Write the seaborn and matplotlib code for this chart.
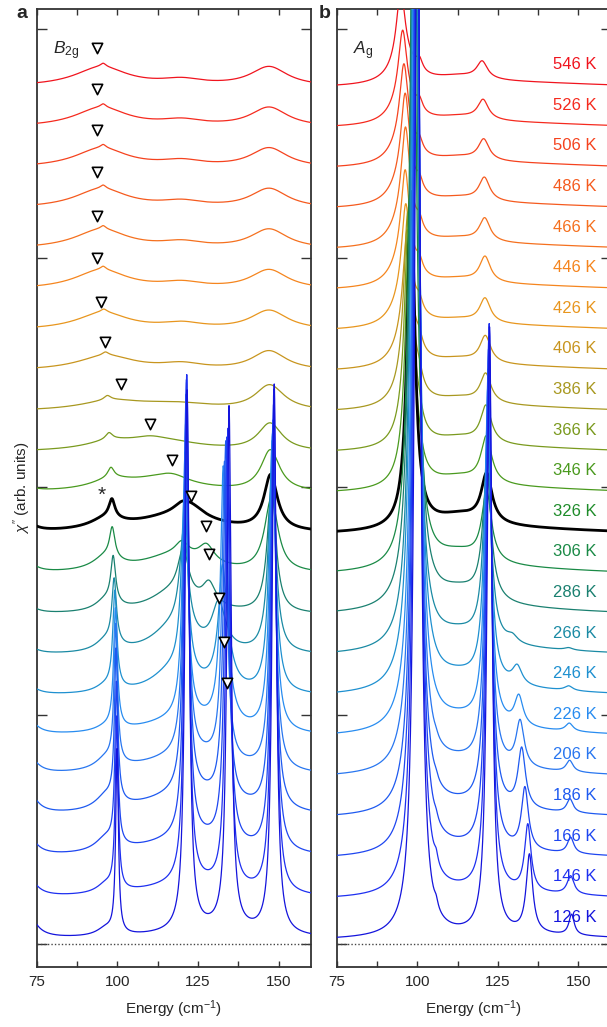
import numpy as np
import matplotlib
matplotlib.use("Agg")
import matplotlib.pyplot as plt
import seaborn as sns

# ---------------- data ----------------
temps = [126, 146, 166, 186, 206, 226, 246, 266, 286, 306, 326,
         346, 366, 386, 406, 426, 446, 466, 486, 506, 526, 546]
temp_labels = [f"{t} K" for t in temps]
curve_colors = ["#1414dc", "#1e30f0", "#1e46f0", "#1e5af0", "#2876f0", "#288cf0",
                "#1e90d0", "#1a8aa4", "#1a8070", "#1a8a46", "#000000", "#4a9a1e",
                "#7a9a1e", "#a89820", "#c8951e", "#e8961e", "#f5851e", "#f5701e",
                "#f55a1e", "#f5421e", "#f52a1e", "#f0141e"]
label_colors = ["#1414dc", "#1e30f0", "#1e46f0", "#1e5af0", "#2876f0", "#288cf0",
                "#1e90d0", "#1a8aa4", "#1a8070", "#1a8a46", "#1e8c2a", "#4a9a1e",
                "#7a9a1e", "#a89820", "#c8951e", "#e8961e", "#f5851e", "#f5701e",
                "#f55a1e", "#f5421e", "#f52a1e", "#f0141e"]

# ---- panel a (B2g): peak parameters per temperature (centre, height, half width)
a_tail_amp = [0.12, 0.10, 0.10, 0.12, 0.10, 0.08, 0.05, 0.04, 0.04, 0.05, 0.04,
              0.02, 0, 0, 0, 0, 0, 0, 0, 0, 0, 0]
a_hump_pos = [96.5, 96.5, 96.5, 96.5, 96.5, 96.5, 96.5, 96.5, 96.5, 96.5, 96.5,
              98.0, 98.0, 98.0, 96.5, 95.5, 95.0, 95.0, 95.0, 95.0, 95.0, 95.0]
a_hump_amp = [0.035, 0.04, 0.06, 0.06, 0.05, 0.02, 0.03, 0.05, 0.05, 0.06, 0.045,
              0.04, 0.035, 0.04, 0.065, 0.075, 0.085, 0.085, 0.085, 0.085, 0.085, 0.085]
a_hump_wid = [3.5, 3.5, 4, 4, 4, 4, 4, 4, 4, 5, 6, 8, 10, 12, 11, 10, 10, 10, 10, 10, 10, 10]
a_p100_pos = [99.9, 99.8, 99.7, 99.6, 99.5, 99.4, 99.2, 99.0, 98.7, 98.4, 98.3,
              98.0, 97.4, 96.9, 96.3, 95.8, 95.6, 95.6, 95.6, 95.6, 95.6, 95.6]
a_p100_amp = [0.80, 0.75, 0.70, 0.66, 0.60, 0.52, 0.42, 0.28, 0.20, 0.13, 0.08,
              0.045, 0.03, 0.02, 0.015, 0.015, 0.015, 0.015, 0.015, 0.015, 0.015, 0.015]
a_p100_wid = [0.5, 0.55, 0.55, 0.6, 0.65, 0.7, 0.75, 0.85, 0.9, 1.0, 1.1,
              1.2, 1.3, 1.3, 1.2, 1.2, 1.0, 1.0, 1.0, 1.0, 1.0, 1.0]
a_cont_pos = [130, 122, 122, 122, 122, 120, 117, 117, 117, 117, 118,
              113, 115, 118, 120, 120, 120, 120, 120, 120, 120, 120]
a_cont_amp = [0.04, 0.06, 0.08, 0.10, 0.09, 0.07, 0.10, 0.11, 0.09, 0.075, 0.07,
              0.05, 0.04, 0.03, 0.025, 0.025, 0.025, 0.025, 0.025, 0.025, 0.025, 0.025]
a_cont_wid = [18, 18, 18, 18, 18, 15, 8, 8, 9, 12, 16, 14, 15, 15, 8, 8, 8, 8, 8, 8, 8, 8]
a_p121_pos = [121.6, 121.5, 121.4, 121.3, 121.2, 121.0, 120.8, 120.6, 120.4, 120.0, 120.0,
              120.0, 120.0, 120.0, 120.0, 120.0, 120.0, 120.0, 120.0, 120.0, 120.0, 120.0]
a_p121_amp = [2.36, 2.22, 2.0, 1.74, 1.45, 1.16, 0.80, 0.45, 0.20, 0.06, 0.03,
              0, 0, 0, 0, 0, 0, 0, 0, 0, 0, 0]
a_p121_wid = [0.8, 0.8, 0.85, 0.9, 0.95, 1.0, 1.2, 1.6, 2.0, 2.5, 3,
              3, 3, 3, 3, 3, 3, 3, 3, 3, 3, 3]
a_soft_pos = [134.6, 134.5, 134.4, 134.3, 134.2, 134.0, 133.1, 131.4, 128.4, 127.6, 122.9,
              116.9, 110.0, 101.1, 96.2, 95.0, 93.8, 93.8, 93.8, 93.8, 93.8, 93.8]
a_soft_amp = [0, 0, 0, 0, 0, 0.12, 0.25, 0.2, 0.1, 0.08, 0.05,
              0.03, 0.02, 0, 0, 0, 0, 0, 0, 0, 0, 0]
a_soft_wid = [2, 2, 2, 2, 2, 2.5, 2.5, 2.5, 2.5, 3, 5, 6, 6, 6, 6, 6, 6, 6, 6, 6, 6, 6]
a_p134_pos = [134.6, 134.3, 134.0, 133.6, 133.2, 132.8, 132.5, 133.0, 133.0, 133.0, 133.0,
              133.0, 133.0, 133.0, 133.0, 133.0, 133.0, 133.0, 133.0, 133.0, 133.0, 133.0]
a_p134_amp = [2.28, 2.0, 1.77, 1.56, 1.3, 1.03, 0.3, 0, 0, 0, 0,
              0, 0, 0, 0, 0, 0, 0, 0, 0, 0, 0]
a_p134_wid = [0.8, 0.85, 0.9, 0.9, 0.95, 1.0, 1.2, 1.5, 1.5, 1.5, 1.5,
              1.5, 1.5, 1.5, 1.5, 1.5, 1.5, 1.5, 1.5, 1.5, 1.5, 1.5]
a_p148_pos = [148.6, 148.5, 148.4, 148.3, 148.2, 148.1, 148.0, 147.9, 147.8, 147.7, 147.5,
              147.4, 147.3, 147.2, 147.0, 147.0, 147.0, 147.0, 147.0, 147.0, 147.0, 147.0]
a_p148_amp = [2.4, 2.2, 1.95, 1.7, 1.5, 1.3, 1.1, 0.8, 0.55, 0.32, 0.24,
              0.18, 0.12, 0.11, 0.085, 0.085, 0.085, 0.085, 0.085, 0.085, 0.085, 0.085]
a_p148_wid = [0.8, 0.85, 0.9, 0.95, 1.0, 1.1, 1.2, 1.4, 1.6, 2.5, 2.5,
              3.5, 4.5, 5.5, 6.5, 7, 7, 7, 7, 7, 7, 7]

# soft-mode markers (open triangles), 226 K ... 546 K
tri_temps = [226, 246, 266, 286, 306, 326, 346, 366, 386, 406, 426, 446, 466, 486, 506, 526, 546]
tri_energy = [134.0, 133.1, 131.4, 128.4, 127.6, 122.9, 116.9, 110.0, 101.1, 96.2,
              95.0, 93.8, 93.8, 93.8, 93.8, 93.8, 93.8]
tri_height = [0.232, 0.237, 0.251, 0.265, 0.211, 0.165, 0.143, 0.123, 0.121, 0.127,
              0.124, 0.139, 0.145, 0.16, 0.166, 0.168, 0.17]
star_energy, star_height = 95.0, 0.165

# ---- panel b (Ag)
b_base_pos = [98.5, 98.5, 98.5, 98.5, 98.5, 98.5, 98.5, 98.5, 98.5, 98.5, 98.5,
              97.5, 97.0, 96.5, 96.0, 95.5, 95.5, 95.5, 95.5, 95.5, 95.5, 95.5]
b_base_amp = [0.02, 0.02, 0.02, 0.02, 0.02, 0.02, 0.02, 0.02, 0.02, 0.02, 0.02,
              0.03, 0.05, 0.07, 0.09, 0.1, 0.1, 0.1, 0.1, 0.1, 0.1, 0.1]
b_base_wid = [4, 4, 4, 4, 4, 4, 4, 4, 4, 4, 4, 4, 4, 4.5, 4.5, 4.5, 4.5, 4.5, 4.5, 4.5, 4.5, 4.5]
b_p98_pos = [100.0, 99.9, 99.8, 99.7, 99.6, 99.5, 99.3, 99.1, 98.9, 98.6, 98.0,
             97.6, 97.3, 97.0, 96.8, 96.4, 96.2, 96.3, 96.2, 95.8, 95.4, 94.8]
b_p98_amp = [5.0, 5.0, 5.0, 5.0, 4.8, 4.6, 4.4, 4.0, 3.6, 3.0, 1.45,
             1.25, 1.0, 0.78, 0.51, 0.44, 0.41, 0.42, 0.39, 0.34, 0.31, 0.31]
b_p98_wid = [1.0, 1.05, 1.1, 1.1, 1.15, 1.2, 1.25, 1.25, 1.3, 1.3, 1.4,
             1.45, 1.5, 1.55, 1.6, 1.6, 1.6, 1.6, 1.6, 1.6, 1.6, 1.6]
b_p101_amp = [0, 0, 0, 0, 0, 0, 0, 0, 0, 0, 0,
              0.04, 0.05, 0.05, 0.05, 0.05, 0.05, 0.05, 0.05, 0.05, 0.05, 0.05]
b_p106_amp = [0.03, 0.04, 0.02, 0.015, 0.01, 0, 0, 0, 0, 0, 0,
              0, 0, 0, 0, 0, 0, 0, 0, 0, 0, 0]
b_cont_amp = [0.0, 0.01, 0.02, 0.03, 0.04, 0.05, 0.06, 0.07, 0.08, 0.07, 0.06,
              0.05, 0.045, 0.04, 0.035, 0.03, 0.03, 0.03, 0.03, 0.03, 0.03, 0.03]
b_p122_pos = [122.4, 122.3, 122.2, 122.1, 122.0, 121.9, 121.8, 121.7, 121.6, 121.5, 121.5,
              121.4, 121.3, 121.2, 121.1, 121.0, 121.0, 120.9, 120.8, 120.6, 120.4, 120.1]
b_p122_amp = [2.65, 2.48, 2.24, 2.0, 1.73, 1.47, 1.16, 0.85, 0.55, 0.3, 0.21,
              0.2, 0.16, 0.125, 0.115, 0.105, 0.11, 0.1, 0.1, 0.09, 0.085, 0.075]
b_p122_wid = [0.9, 0.95, 1.0, 1.05, 1.1, 1.15, 1.25, 1.4, 1.6, 1.8, 2.0,
              2.0, 2.0, 2.0, 2.0, 2.0, 2.0, 2.0, 2.0, 2.0, 2.0, 2.0]
b_p133_pos = [134.8, 134.3, 133.4, 132.4, 131.9, 131.5, 131.0, 129.5, 130, 130, 130,
              130, 130, 130, 130, 130, 130, 130, 130, 130, 130, 130]
b_p133_amp = [0.34, 0.29, 0.27, 0.26, 0.2, 0.13, 0.08, 0.03, 0, 0, 0,
              0, 0, 0, 0, 0, 0, 0, 0, 0, 0, 0]
b_p133_wid = [1.2, 1.2, 1.3, 1.4, 1.5, 1.6, 1.8, 2.0, 2, 2, 2,
              2, 2, 2, 2, 2, 2, 2, 2, 2, 2, 2]
b_p148_pos = [147.9, 147.6, 147.6, 147.4, 147.3, 147.2, 147.0, 147.0, 147, 147, 147,
              147, 147, 147, 147, 147, 147, 147, 147, 147, 147, 147]
b_p148_amp = [0.09, 0.08, 0.07, 0.06, 0.05, 0.035, 0.02, 0.01, 0, 0, 0,
              0, 0, 0, 0, 0, 0, 0, 0, 0, 0, 0]
b_p148_wid = [1.0, 1.3, 1.2, 1.2, 1.3, 1.4, 1.5, 1.5, 1.5, 1.5, 1.5,
              1.5, 1.5, 1.5, 1.5, 1.5, 1.5, 1.5, 1.5, 1.5, 1.5, 1.5]
b_bg_amp = 0.025

# ---------------- model & layout ----------------
energy = np.linspace(75, 160, 2001)
step, base_off = 0.1775, 0.02


def lor(c, a, w):
    return a / (1.0 + ((energy - c) / w) ** 2)


def spec_a(i):
    return (lor(72, a_tail_amp[i], 3.0) + lor(a_hump_pos[i], a_hump_amp[i], a_hump_wid[i])
            + lor(a_p100_pos[i], a_p100_amp[i], a_p100_wid[i])
            + lor(a_cont_pos[i], a_cont_amp[i], a_cont_wid[i])
            + lor(a_p121_pos[i], a_p121_amp[i], a_p121_wid[i])
            + lor(a_soft_pos[i], a_soft_amp[i], a_soft_wid[i])
            + lor(a_p134_pos[i], a_p134_amp[i], a_p134_wid[i])
            + lor(a_p148_pos[i], a_p148_amp[i], a_p148_wid[i]))


def spec_b(i):
    bg = lor(130, b_bg_amp, 40)
    return (lor(b_base_pos[i], b_base_amp[i], b_base_wid[i])
            + lor(b_p98_pos[i], b_p98_amp[i], b_p98_wid[i])
            + lor(100.6, b_p101_amp[i], 1.2) + lor(105.8, b_p106_amp[i], 0.7)
            + lor(113, b_cont_amp[i], 10)
            + lor(b_p122_pos[i], b_p122_amp[i], b_p122_wid[i])
            + lor(b_p133_pos[i], b_p133_amp[i], b_p133_wid[i])
            + lor(b_p148_pos[i], b_p148_amp[i], b_p148_wid[i])
            + bg - bg[0])


sns.set_theme(style="ticks")
plt.rcParams["font.family"] = ["Liberation Sans", "DejaVu Sans"]
plt.rcParams["mathtext.fontset"] = "custom"
plt.rcParams["mathtext.rm"] = "Liberation Sans"
plt.rcParams["mathtext.it"] = "Liberation Sans:italic"
plt.rcParams["mathtext.bf"] = "Liberation Sans:bold"

W, H = 607, 1027
fig = plt.figure(figsize=(W / 100, H / 100), dpi=100)
axA = fig.add_axes([36.7 / W, 60.3 / H, 274.3 / W, 957.4 / H])
axB = fig.add_axes([337 / W, 60.3 / H, 273.5 / W, 957.4 / H])

offsets = base_off + step * np.arange(len(temps))

for ax, fn in ((axA, spec_a), (axB, spec_b)):
    for i in range(len(temps) - 1, -1, -1):
        lw = 2.0 if temps[i] == 326 else 0.9
        sns.lineplot(x=energy, y=fn(i) + offsets[i], ax=ax, color=curve_colors[i],
                     linewidth=lw, estimator=None, sort=False, errorbar=None, zorder=3)
    ax.axhline(0, color="#444444", linestyle=(0, (1, 1.5)), linewidth=1.0, zorder=1)
    ax.set_xlim(75, 160)
    ax.set_ylim(-0.099, 4.087)
    ax.set_xticks([75, 100, 125, 150])
    ax.set_xticks([87.5, 112.5, 137.5], minor=True)
    ax.set_yticks([0, 1, 2, 3, 4])
    ax.set_yticklabels([])
    ax.tick_params(axis="x", which="both", direction="in", top=True, bottom=True,
                   length=4.5, width=1.0, color="#333333", labelsize=11, pad=6)
    ax.tick_params(axis="y", which="both", direction="in", left=True, right=True,
                   length=7, width=1.0, color="#333333")
    for s in ax.spines.values():
        s.set_color("#333333")
        s.set_linewidth(1.3)
    ax.set_xlabel("Energy (cm$^{-1}$)", fontsize=11, labelpad=7)
    ax.set_ylabel("")

# triangles and asterisk in panel a
tri_idx = [temps.index(t) for t in tri_temps]
tri_y = [tri_height[k] + offsets[j] for k, j in enumerate(tri_idx)]
sns.scatterplot(x=tri_energy, y=tri_y, ax=axA, marker="v", s=55, facecolor="white",
                edgecolor="black", linewidth=1.2, zorder=5)
axA.text(star_energy, star_height + offsets[temps.index(326)], "*", fontsize=15,
         ha="center", va="center", zorder=5)

axA.text(80.0, 3.905, r"$B_{\mathrm{2g}}$", fontsize=12.5, ha="left", va="center")
axB.text(80.0, 3.905, r"$A_{\mathrm{g}}$", fontsize=12.5, ha="left", va="center")

for i, t in enumerate(temps):
    axB.text(155.8, offsets[i] + 0.097, temp_labels[i], color=label_colors[i],
             fontsize=12, ha="right", va="center", zorder=6)

fig.text(22 / W, 1 - 488 / H, r"$\chi''$ (arb. units)", rotation=90, fontsize=11,
         ha="center", va="center")
fig.text(16 / W, 1 - 13 / H, "a", fontsize=14, fontweight="bold", ha="left", va="center")
fig.text(319 / W, 1 - 13 / H, "b", fontsize=14, fontweight="bold", ha="left", va="center")

fig.savefig("out.png", dpi=100)
